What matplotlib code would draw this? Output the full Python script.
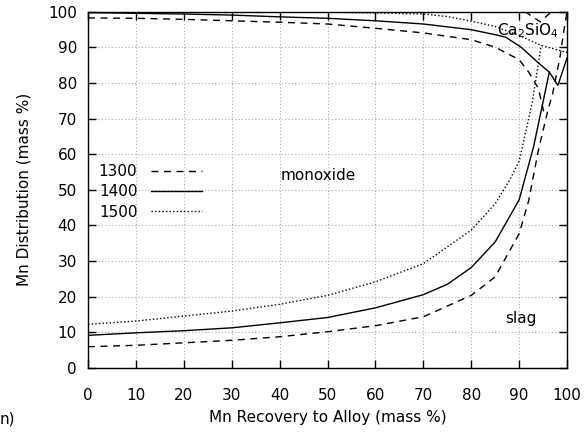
import matplotlib
matplotlib.use("Agg")
import matplotlib.pyplot as plt

# ---- data ----
x_slag_1300 = [0, 10, 20, 30, 40, 50, 60, 70, 80, 85, 90, 92, 94, 96, 97, 98.5, 99.5, 100]
y_slag_1300 = [6.0, 6.4, 7.1, 7.8, 8.8, 10.2, 11.9, 14.4, 20.4, 25.6, 37.7, 47, 61, 72.3, 77, 87, 96, 100]
x_up_1300 = [0, 10, 20, 30, 40, 50, 60, 70, 80, 85, 90, 92, 94, 95.3]
y_up_1300 = [98.2, 98.1, 97.8, 97.4, 97.0, 96.5, 95.3, 94.0, 92.1, 90.0, 86.5, 83.0, 78.5, 71.0]
x_top_1300 = [91.2, 94.4, 96.8]
y_top_1300 = [100, 97.1, 100]

x_slag_1400 = [0, 10, 20, 30, 40, 50, 60, 70, 75, 80, 85, 90, 93, 96.3]
y_slag_1400 = [9.2, 9.9, 10.5, 11.3, 12.7, 14.2, 16.9, 20.6, 23.5, 28.2, 35.4, 47.2, 62, 83]
x_up_1400 = [0, 10, 20, 30, 40, 50, 60, 70, 80, 85, 87.2, 90.4, 94.6, 96.3, 98.1, 100]
y_up_1400 = [99.7, 99.5, 99.3, 99.0, 98.5, 98.1, 97.4, 96.5, 94.9, 93.5, 92.8, 90.0, 84.9, 83.0, 79.3, 87.0]

x_slag_1500 = [0, 10, 20, 30, 40, 50, 60, 70, 80, 85, 88, 90, 91.5, 92.8, 94.6]
y_slag_1500 = [12.3, 13.2, 14.6, 16.0, 17.9, 20.4, 24.2, 29.3, 38.7, 46.1, 52.7, 58, 67, 75, 90.5]
x_up_1500 = [0, 20, 40, 50, 60, 70, 75, 80, 85, 90, 94.6, 100]
y_up_1500 = [100, 99.95, 99.9, 99.8, 99.6, 99.3, 98.6, 97.3, 95.8, 93.3, 90.5, 88.5]

temps = ["1300", "1400", "1500"]
xticks = list(range(0, 101, 10))
yticks = list(range(0, 101, 10))

plt.rcParams['font.family'] = ['DejaVu Sans']
plt.rcParams['font.size'] = 11

fig = plt.figure(figsize=(5.87, 4.43), dpi=100)
ax = fig.add_axes([0.150, 0.169, 0.816, 0.805])

dash = (0, (5, 4))
dot = (0, (1, 1.6))
lw = 1.0
l1, = ax.plot(x_slag_1300, y_slag_1300, color='black', lw=lw, linestyle=dash)
ax.plot(x_up_1300, y_up_1300, color='black', lw=lw, linestyle=dash)
ax.plot(x_top_1300, y_top_1300, color='black', lw=lw, linestyle=dash)
l2, = ax.plot(x_slag_1400, y_slag_1400, color='black', lw=lw, linestyle='-')
ax.plot(x_up_1400, y_up_1400, color='black', lw=lw, linestyle='-')
l3, = ax.plot(x_slag_1500, y_slag_1500, color='black', lw=lw, linestyle=dot)
ax.plot(x_up_1500, y_up_1500, color='black', lw=lw, linestyle=dot)

ax.set_xlim(0, 100)
ax.set_ylim(0, 100)
ax.set_xticks(xticks)
ax.set_yticks(yticks)
ax.grid(True, color='#aaaaaa', linestyle=(0, (1, 2)), linewidth=0.8)
ax.tick_params(direction='in', length=6, width=1, top=True, right=True, colors='black')
ax.tick_params(axis='x', pad=14)
ax.tick_params(axis='y', pad=8)
for s in ax.spines.values():
    s.set_linewidth(1.0)

ax.set_xlabel("Mn Recovery to Alloy (mass %)", labelpad=5)
ax.set_ylabel("Mn Distribution (mass %)", labelpad=12)

ax.text(48.1, 54, "monoxide", ha='center', va='center')
ax.text(90.4, 14, "slag", ha='center', va='center')
ax.text(91.8, 94.7, "Ca$_2$SiO$_4$", ha='center', va='center')

leg = ax.legend([l1, l2, l3], temps, loc='upper left', bbox_to_anchor=(0.0, 0.602),
                frameon=False, markerfirst=False, handlelength=3.3, handletextpad=0.9,
                labelspacing=0.35, borderaxespad=0.3)

fig.text(0.0, 0.055, "n)", ha='left', va='center')

fig.savefig("out.png", dpi=100)
